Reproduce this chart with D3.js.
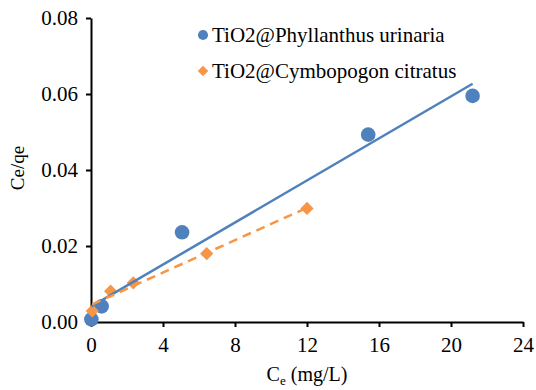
<!DOCTYPE html>
<html>
<head>
<meta charset="utf-8">
<script src="https://cdn.jsdelivr.net/npm/d3@7"></script>
</head>
<body style="margin:0;background:#fff">
<div id="chart"></div>
<script>
// data
var puX = [0.02, 0.59, 5.06, 15.4, 21.2];
var puY = [0.0007, 0.0041, 0.0236, 0.0493, 0.0595];
var ccX = [0.07, 1.09, 2.35, 6.43, 12.0];
var ccY = [0.0029, 0.0081, 0.0103, 0.0180, 0.0299];
var seriesNames = ["TiO2@Phyllanthus urinaria", "TiO2@Cymbopogon citratus"];
var xTicks = [0, 4, 8, 12, 16, 20, 24];
var yTicks = [0, 0.02, 0.04, 0.06, 0.08];

var W = 536, H = 390;
var margin = {top: 18, right: 13, bottom: 68, left: 91};
var width = W - margin.left - margin.right,
    height = H - margin.top - margin.bottom;

var blue = "#4f81bd", orange = "#f79646";
var FONT = "Liberation Serif";

var svg = d3.select("#chart").append("svg")
    .attr("width", W)
    .attr("height", H);

var g = svg.append("g")
    .attr("transform", "translate(" + margin.left + "," + margin.top + ")");

var x = d3.scaleLinear().domain([0, 24]).range([0, width]);
var y = d3.scaleLinear().domain([0, 0.08]).range([height, 0]);

// axes
var xAxis = d3.axisBottom(x).tickValues(xTicks).tickSize(5).tickSizeOuter(0)
    .tickFormat(d3.format("d"));
var yAxis = d3.axisLeft(y).tickValues(yTicks).tickSize(5).tickSizeOuter(0)
    .tickFormat(d3.format(".2f"));

var gx = g.append("g").attr("transform", "translate(0," + height + ")").call(xAxis);
var gy = g.append("g").call(yAxis);

[gx, gy].forEach(function(a) {
  a.attr("font-family", FONT).attr("font-size", 21);
  a.select(".domain").attr("stroke", "#000").attr("stroke-width", 2);
  a.selectAll(".tick line").attr("stroke", "#000").attr("stroke-width", 2);
  a.selectAll(".tick text").attr("fill", "#000")
    .style("font-family", FONT).style("font-size", "21px");
});
gx.selectAll(".tick text").attr("dy", "1.05em");
gy.selectAll(".tick text").attr("x", -13).attr("dy", "0.33em");

// axis titles
g.append("text")
    .attr("transform", "rotate(-90)")
    .attr("x", -height / 2 + 2)
    .attr("y", -margin.left + 24)
    .attr("text-anchor", "middle")
    .style("font-family", FONT).style("font-size", "19px")
    .text("Ce/qe");

var xt = g.append("text")
    .attr("x", width / 2)
    .attr("y", height + 59)
    .attr("text-anchor", "middle")
    .style("font-family", FONT).style("font-size", "20px");
xt.append("tspan").text("C");
xt.append("tspan").attr("dy", 4).style("font-size", "13px").text("e");
xt.append("tspan").attr("dy", -4).text(" (mg/L)");

// least squares trendline
function fit(xs, ys) {
  var mx = d3.mean(xs), my = d3.mean(ys);
  var sxy = d3.sum(xs, function(v, i) { return (v - mx) * (ys[i] - my); });
  var sxx = d3.sum(xs, function(v) { return (v - mx) * (v - mx); });
  var b = sxy / sxx, a = my - b * mx;
  return d3.extent(xs).map(function(v) { return [v, a + b * v]; });
}

var line = d3.line()
    .x(function(d) { return x(d[0]); })
    .y(function(d) { return y(d[1]); });

// markers
g.selectAll("circle.pu").data(puX).enter().append("circle")
    .attr("class", "pu")
    .attr("cx", function(d) { return x(d); })
    .attr("cy", function(d, i) { return y(puY[i]); })
    .attr("r", 7.3)
    .attr("fill", blue);

// square turned 45deg, like excel's diamond
var diamond = d3.symbol().type(d3.symbolSquare).size(88);
g.selectAll("path.cc").data(ccX).enter().append("path")
    .attr("class", "cc")
    .attr("d", diamond)
    .attr("transform", function(d, i) {
      return "translate(" + x(d) + "," + y(ccY[i]) + ") rotate(45)";
    })
    .attr("fill", orange);

// trendlines
g.append("path").datum(fit(puX, puY))
    .attr("d", line).attr("fill", "none")
    .attr("stroke", blue).attr("stroke-width", 2.5);
g.append("path").datum(fit(ccX, ccY))
    .attr("d", line).attr("fill", "none")
    .attr("stroke", orange).attr("stroke-width", 2.5)
    .attr("stroke-dasharray", "9,6");

// legend
var legend = svg.append("g");
var items = legend.selectAll("g").data(seriesNames).enter().append("g")
    .attr("transform", function(d, i) { return "translate(203," + (35 + i * 36) + ")"; });
items.append("path")
    .attr("d", function(d, i) {
      return i === 0 ? d3.symbol().type(d3.symbolCircle).size(80)()
                     : d3.symbol().type(d3.symbolSquare).size(55)();
    })
    .attr("transform", function(d, i) { return i === 0 ? null : "rotate(45)"; })
    .attr("fill", function(d, i) { return i === 0 ? blue : orange; });
items.append("text")
    .attr("x", 9)
    .attr("y", 7)
    .style("font-family", FONT).style("font-size", "21px")
    .text(function(d) { return d; });
</script>
</body>
</html>
